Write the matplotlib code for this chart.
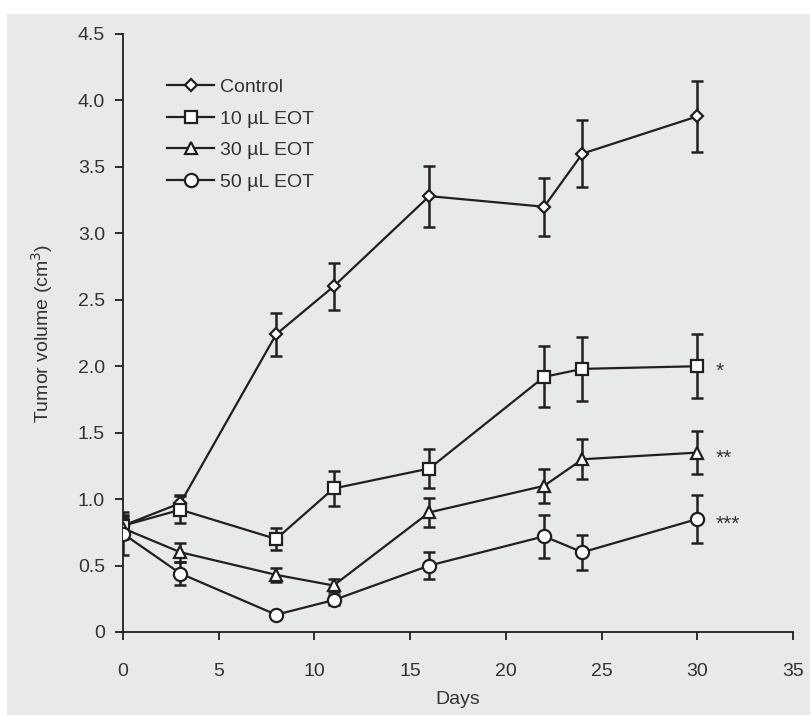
import matplotlib
matplotlib.use('Agg')
import matplotlib.pyplot as plt
from matplotlib.patches import Rectangle

days = [0, 3, 8, 11, 16, 22, 24, 30]

control = [0.80, 0.97, 2.24, 2.60, 3.28, 3.20, 3.60, 3.88]
control_err = [0.08, 0.06, 0.16, 0.18, 0.23, 0.22, 0.25, 0.27]

eot10 = [0.80, 0.92, 0.70, 1.08, 1.23, 1.92, 1.98, 2.00]
eot10_err = [0.07, 0.10, 0.08, 0.13, 0.15, 0.23, 0.24, 0.24]

eot30 = [0.78, 0.60, 0.43, 0.35, 0.90, 1.10, 1.30, 1.35]
eot30_err = [0.08, 0.07, 0.05, 0.05, 0.11, 0.13, 0.15, 0.16]

eot50 = [0.74, 0.44, 0.13, 0.24, 0.50, 0.72, 0.60, 0.85]
eot50_err = [0.16, 0.09, 0.01, 0.04, 0.10, 0.16, 0.13, 0.18]

labels = ['Control', '10 µL EOT', '30 µL EOT', '50 µL EOT']
stars = ['', '*', '**', '***']

plt.rcParams['font.family'] = ['Liberation Sans', 'DejaVu Sans']
dark = '#231f20'
txt = '#333333'
fs = 14

fig = plt.figure(figsize=(8.1, 7.15), dpi=100)
fig.patches.append(Rectangle((7 / 810, 0), 1, 1 - 14 / 715, transform=fig.transFigure,
                             facecolor='#e8e9eb', edgecolor='none', zorder=-10))
ax = fig.add_axes([123 / 810, 1 - 632 / 715, 670 / 810, 598 / 715])
ax.set_facecolor('none')

series = [(control, control_err, 'D', 6.5), (eot10, eot10_err, 's', 8.5),
          (eot30, eot30_err, '^', 9), (eot50, eot50_err, 'o', 9.5)]

for (vals, errs, mk, ms), lab, st in zip(series, labels, stars):
    ax.errorbar(days, vals, yerr=errs, fmt='none', ecolor=dark, elinewidth=1.8,
                capsize=4.5, capthick=1.8, zorder=2)
    ax.plot(days, vals, color=dark, lw=1.6, marker=mk, ms=ms, mfc='white',
            mec=dark, mew=1.6, label=lab, zorder=3)
    if st:
        ax.annotate(st, (days[-1], vals[-1]), xytext=(13, -4), textcoords='offset points',
                    fontsize=15, color=txt, va='center', ha='left')

ax.set_xlim(0, 35)
ax.set_ylim(0, 4.5)
ax.set_xticks(range(0, 36, 5))
ax.set_yticks([0, 0.5, 1.0, 1.5, 2.0, 2.5, 3.0, 3.5, 4.0, 4.5])
ax.set_yticklabels(['0', '0.5', '1.0', '1.5', '2.0', '2.5', '3.0', '3.5', '4.0', '4.5'])
ax.spines['top'].set_visible(False)
ax.spines['right'].set_visible(False)
for s in ['left', 'bottom']:
    ax.spines[s].set_linewidth(1.3)
    ax.spines[s].set_color(dark)
ax.tick_params(axis='both', direction='out', length=6, width=1.3, color=dark,
               labelsize=fs, labelcolor=txt)
ax.tick_params(axis='x', pad=16)
ax.tick_params(axis='y', pad=7)
ax.set_xlabel('Days', fontsize=fs, color=txt, labelpad=8)
ax.set_ylabel('Tumor volume (cm$^3$)', fontsize=fs, color=txt, labelpad=16)

ax.legend(loc='upper left', bbox_to_anchor=(0.04, 0.955), frameon=False, fontsize=fs,
          handlelength=2.4, handletextpad=0.3, labelspacing=0.72, labelcolor=txt)

fig.savefig('out.png', dpi=100)
